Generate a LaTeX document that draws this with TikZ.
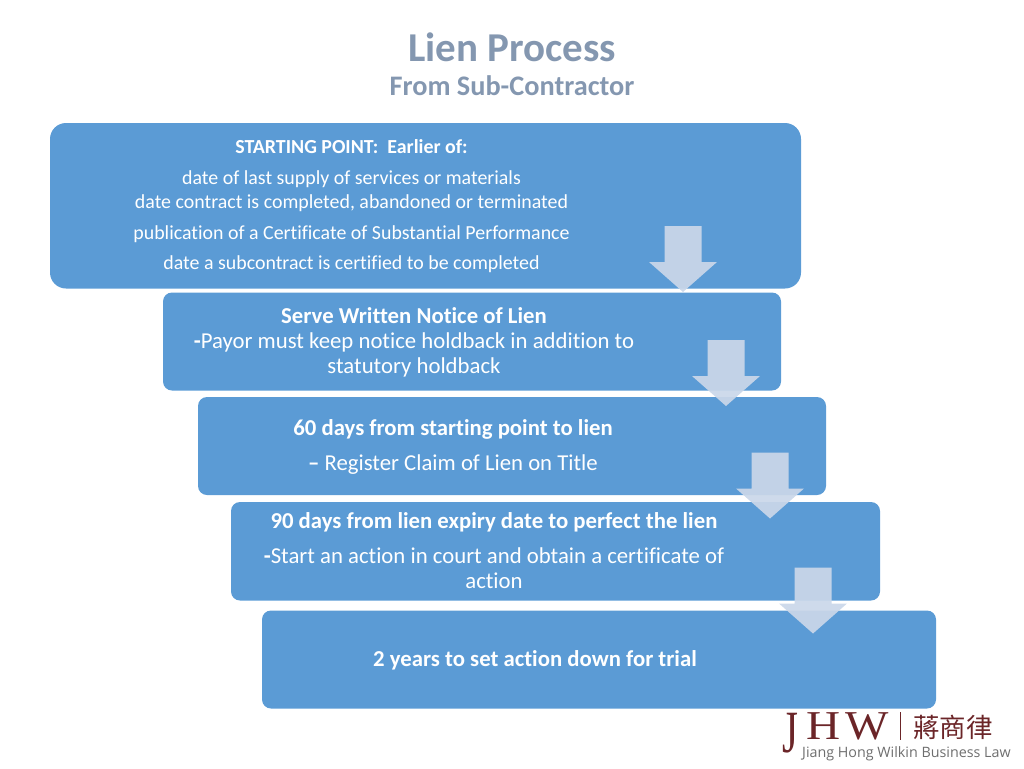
\documentclass[tikz,border=0pt]{standalone}
\usepackage{fontspec}
\setmainfont[Ligatures=CommonOff]{Carlito}
\newfontfamily\cjkfont{Noto Sans CJK TC}
\newfontfamily\seriffont{Liberation Serif}
\newfontfamily\logosans{Open Sans}
\definecolor{boxblue}{HTML}{5B9BD5}
\definecolor{titleblue}{HTML}{8497B0}
\definecolor{logored}{HTML}{6B2528}
\definecolor{logogray}{HTML}{6E6E6E}
\definecolor{arrowtint}{HTML}{CAD7E9}
\tikzset{
  stepbox/.style={fill=boxblue,draw=none,rounded corners=#1},
  stepbox/.default=9pt,
  wtext/.style={text=white,inner sep=0pt,align=center,anchor=base},
  blockarrow/.style={fill=arrowtint,fill opacity=0.93,draw=none},
  ttl/.style={text=titleblue,inner sep=0pt,anchor=base,font=\bfseries},
}
\newcommand{\blockdown}[2]{%
  \fill[blockarrow] (#1-18.5,#2) -- (#1+18.5,#2) -- (#1+18.5,#2+36) -- (#1+34,#2+36)
    -- (#1,#2+66) -- (#1-34,#2+36) -- (#1-18.5,#2+36) -- cycle;}
\newcommand{\fs}[1]{\fontsize{#1}{#1}\selectfont}
\begin{document}
\begin{tikzpicture}[x=1pt,y=-1pt]
\useasboundingbox (0,0) rectangle (1024,768);
\node[ttl] (title) at (512,61) {\fs{41}Lien Process};
\node[ttl] (subtitle) at (512,95.5) {\fs{28.3}From Sub-Contractor};

\fill[stepbox=16pt] (50,123) rectangle (801,288.5);
\fill[stepbox] (163,292.5) rectangle (781,390.5);
\fill[stepbox] (198,397) rectangle (826,495);
\fill[stepbox] (231,502) rectangle (880,600.5);
\fill[stepbox] (262,610.5) rectangle (936,708.5);

\node[wtext] (s0) at (351.5,153) {\fs{19.9}\textbf{STARTING POINT:\ \ Earlier of:}};
\node[wtext] (s1) at (351.5,184) {\fs{19.9}date of last supply of services or materials};
\node[wtext] (s2) at (351.5,208.5) {\fs{19.9}date contract is completed, abandoned or terminated};
\node[wtext] (s3) at (351.5,239) {\fs{19.9}publication of a Certificate of Substantial Performance};
\node[wtext] (s4) at (351.5,269.5) {\fs{19.9}date a subcontract is certified to be completed};

\node[wtext] (a1) at (414,323.5) {\fs{22.75}\textbf{Serve Written Notice of Lien}};
\node[wtext] (a2) at (414,348.5) {\fs{22.75}\textbf{-}Payor must keep notice holdback in addition to};
\node[wtext] (a3) at (414,373.5) {\fs{22.75}statutory holdback};

\node[wtext] (b1) at (453,435) {\fs{22.75}\textbf{60 days from starting point to lien}};
\node[wtext] (b2) at (453,470) {\fs{22.75}\textbf{--} Register Claim of Lien on Title};

\node[wtext] (c1) at (494,528) {\fs{22.75}\textbf{90 days from lien expiry date to perfect the lien}};
\node[wtext] (c2) at (494,563) {\fs{22.75}\textbf{-}Start an action in court and obtain a certificate of};
\node[wtext] (c3) at (494,588) {\fs{22.75}action};

\node[wtext] (d1) at (535,666) {\fs{22.75}\textbf{2 years to set action down for trial}};

\blockdown{683}{226}
\blockdown{726}{340}
\blockdown{770}{452.5}
\blockdown{813}{567.5}

\node[text=logored,inner sep=0pt,anchor=base west,xscale=0.68] (logoj) at (782,752) {\seriffont\fs{60}J};
\node[text=logored,inner sep=0pt,anchor=base west,xscale=1.15] (logoh) at (806.5,739) {\seriffont\fs{41}H};
\node[text=logored,inner sep=0pt,anchor=base west,xscale=1.12] (logow) at (845,739) {\seriffont\fs{41}W};
\fill[logored] (899.8,712) rectangle (901.2,740);
\node[text=logored,inner sep=0pt,anchor=base west] (logocjk) at (913,737) {\cjkfont\fs{26.5}蔣商律};
\node[text=logogray,inner sep=0pt,anchor=base west] (logotext) at (802,757) {\logosans\fs{14.3}Jiang Hong Wilkin Business Law};
\end{tikzpicture}
\end{document}
